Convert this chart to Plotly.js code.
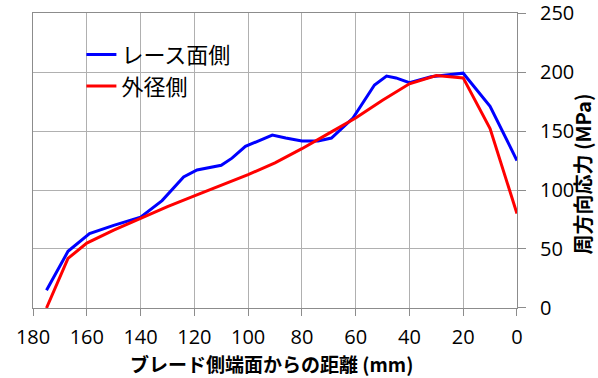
<!DOCTYPE html>
<html>
<head>
<meta charset="utf-8">
<script src="https://cdn.plot.ly/plotly-3.0.1.min.js"></script>
<style>html,body{margin:0;padding:0;background:#fff;}#chart{width:598px;height:378px;}</style>
</head>
<body>
<div id="chart"></div>
<script>
// Distance from blade-side end face (mm)
const raceX = [175,167,159,150,140,132,124,119,110,106,101,96,91,86,80,74,69,61,53,48.5,45,40,32,20,10,0];
const raceY = [15,48,63,70,77,91,111,117,121,127,137,142,146.5,144,141.5,141.5,144,161,189,196.5,195,191,196,199,171,125];
const outerX = [175,167,160,150,140,130,120,110,100,90,80,70,60,50,40,30,20,10,0];
const outerY = [0,42,55,66,76,86,95,104,113,123,135,148,161,176,190,197,195,152,80];
const seriesNames = ["レース面側", "外径側"];
const xTicks = [180,160,140,120,100,80,60,40,20,0];
const yTicks = [0,50,100,150,200,250];
const xTitle = "ブレード側端面からの距離 (mm)";
const yTitle = "周方向応力 (MPa)";

const FONT = "'Open Sans', 'Noto Sans CJK JP', sans-serif";
const JFONT = "'Noto Sans CJK JP', 'Open Sans', sans-serif";

const traces = [
  {x: raceX, y: raceY, name: seriesNames[0], type: 'scatter', mode: 'lines',
   line: {color: '#0000ff', width: 3}, legendgroup: 'a'},
  {x: outerX, y: outerY, name: seriesNames[1], type: 'scatter', mode: 'lines',
   line: {color: '#ff0000', width: 3}, legendgroup: 'b'}
];

const layout = {
  width: 598, height: 378,
  margin: {l: 33, r: 81, t: 13, b: 70},
  paper_bgcolor: '#ffffff', plot_bgcolor: '#ffffff',
  font: {family: FONT, size: 20, color: '#000'},
  showlegend: true,
  legend: {x: 0.10, y: 0.93, xanchor: 'left', yanchor: 'top',
    bgcolor: 'rgba(0,0,0,0)', font: {family: JFONT, size: 22, color: '#000'},
    traceorder: 'grouped', tracegroupgap: 0},
  xaxis: {
    range: [180.02, -0.02], tickvals: xTicks, ticktext: xTicks.map(String),
    showgrid: true, gridcolor: '#b0b0b0', gridwidth: 1,
    showline: true, linecolor: '#8c8c8c', linewidth: 1, mirror: true,
    ticks: 'outside', ticklen: 7, tickcolor: '#8c8c8c', ticklabelstandoff: 4,
    ticklabeloverflow: 'allow',
    zeroline: false,
    tickfont: {family: FONT, size: 20, color: '#000'}
  },
  yaxis: {
    range: [-0.02, 250.02], side: 'right', tickvals: yTicks, ticktext: yTicks.map(String),
    showgrid: true, gridcolor: '#b0b0b0', gridwidth: 1,
    showline: true, linecolor: '#8c8c8c', linewidth: 1, mirror: true,
    ticks: 'outside', ticklen: 8, tickcolor: '#8c8c8c', ticklabelstandoff: 10,
    ticklabeloverflow: 'allow',
    zeroline: false,
    tickfont: {family: FONT, size: 20, color: '#000'}
  },
  annotations: [
    {text: '<b>' + xTitle + '</b>', xref: 'paper', yref: 'paper', x: 0.492, y: -0.189,
     xanchor: 'center', yanchor: 'middle', showarrow: false, borderpad: 0,
     font: {family: JFONT, size: 19, color: '#000'}},
    {text: '<b>' + yTitle + '</b>', xref: 'paper', yref: 'paper', x: 1.136, y: 0.455,
     xanchor: 'center', yanchor: 'middle', showarrow: false, textangle: -90, borderpad: 0,
     font: {family: JFONT, size: 20, color: '#000'}}
  ]
};

Plotly.newPlot('chart', traces, layout, {displayModeBar: false, staticPlot: true});
</script>
</body>
</html>
